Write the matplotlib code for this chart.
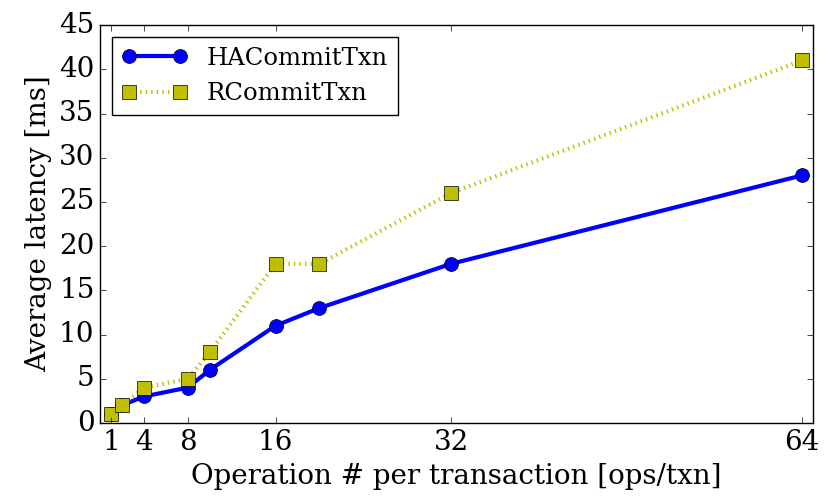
import matplotlib
matplotlib.use('Agg')
import matplotlib.pyplot as plt

ops = [1, 2, 4, 8, 10, 16, 20, 32, 64]
ha_latency = [1, 2, 3, 4, 6, 11, 13, 18, 28]
r_latency = [1, 2, 4, 5, 8, 18, 18, 26, 41]
xticks = [1, 4, 8, 16, 32, 64]

plt.style.use('classic')
plt.rcParams['font.family'] = 'DejaVu Serif'

fig = plt.figure(figsize=(8.3, 4.98), dpi=100)
ax = fig.add_axes([0.1205, 0.1506, 0.859, 0.799])
ax.plot(ops, ha_latency, '-o', color='b', lw=3, ms=10, label='HACommitTxn')
ax.plot(ops, r_latency, marker='s', ls=(0, (1, 3)), color='y', mec='k', lw=3, ms=10,
        label='RCommitTxn')
ax.set_xlim(0, 65)
ax.set_ylim(0, 45)
ax.set_xticks(xticks)
ax.set_yticks(range(0, 46, 5))
ax.tick_params(labelsize=20)
ax.set_xlabel('Operation # per transaction [ops/txn]', fontsize=20)
ax.set_ylabel('Average latency [ms]', fontsize=20)
ax.legend(loc='upper left', fontsize=17.5, numpoints=2, handlelength=2.7)
fig.savefig('out.png', dpi=100)
